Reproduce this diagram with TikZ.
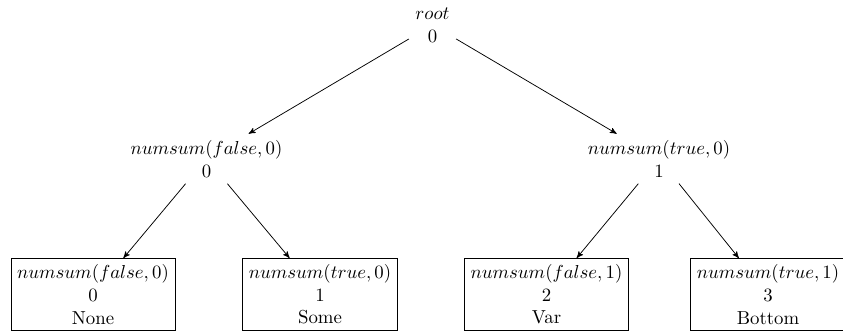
\documentclass[tikz,border=0pt]{standalone}
\usetikzlibrary{arrows}
\begin{document}
\begin{tikzpicture}[x=0.532pt,y=-0.532pt,
  inner/.style={align=center},
  leaf/.style={draw,align=center,line width=0.4pt},
  edge/.style={-stealth',line width=0.4pt}]
\useasboundingbox (0,0) rectangle (843,333);
\node[inner] (root) at (432.5,25) {$root$\\ $0$};
\node[inner] (ml) at (206.5,158.7) {$numsum(false,0)$\\ $0$};
\node[inner] (mr) at (659,158.7) {$numsum(true,0)$\\ $1$};
\node[leaf] (l1) at (93,294.5) {$numsum(false,0)$\\ $0$\\ None};
\node[leaf] (l2) at (320,294.5) {$numsum(true,0)$\\ $1$\\ Some};
\node[leaf] (l3) at (546.5,294.5) {$numsum(false,1)$\\ $2$\\ Var};
\node[leaf] (l4) at (768,294.5) {$numsum(true,1)$\\ $3$\\ Bottom};
\draw[edge] (root) -- (ml);
\draw[edge] (root) -- (mr);
\draw[edge] (ml) -- (l1);
\draw[edge] (ml) -- (l2);
\draw[edge] (mr) -- (l3);
\draw[edge] (mr) -- (l4);
\end{tikzpicture}
\end{document}
